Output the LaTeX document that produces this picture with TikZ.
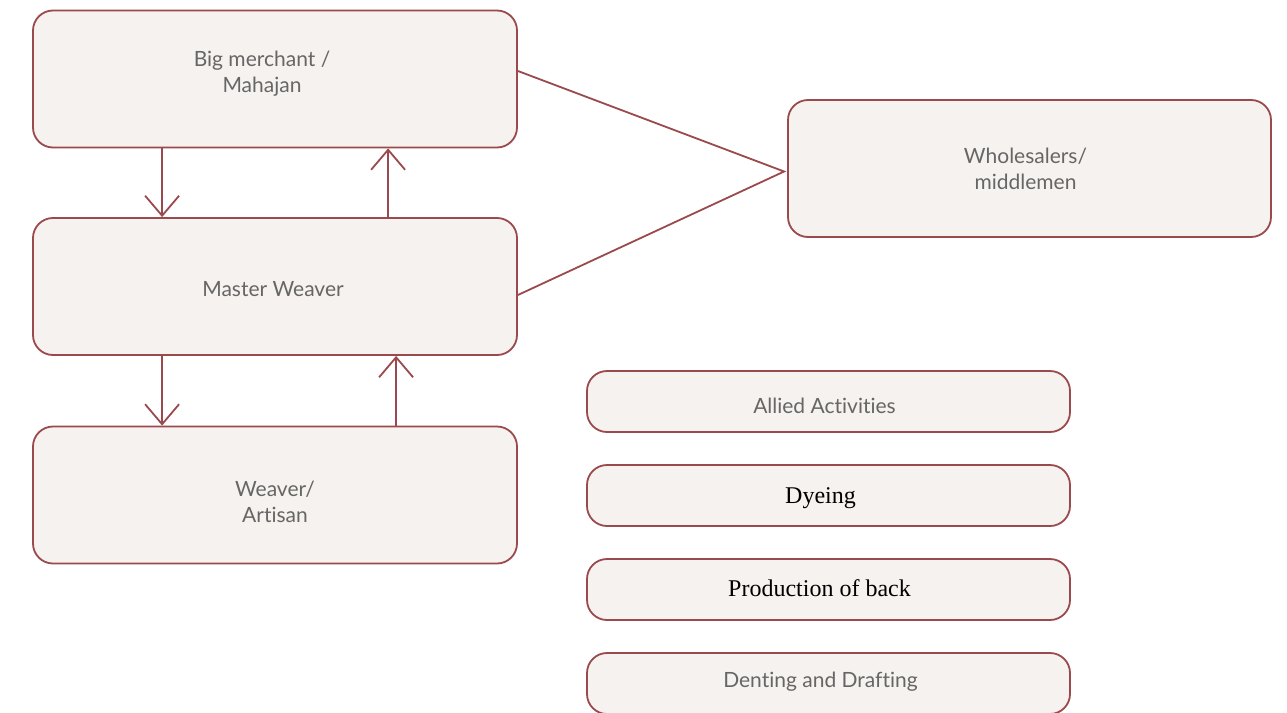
\documentclass[tikz,border=0pt]{standalone}
\usepackage{fontspec}
\setmainfont[Ligatures=NoCommon]{Lato}
\newfontfamily\serifx{Liberation Serif}
\usetikzlibrary{arrows.meta,calc}
\definecolor{edge}{HTML}{9A4A4C}
\definecolor{boxfill}{HTML}{F6F2EF}
\definecolor{txt}{HTML}{666666}
\begin{document}
\begin{tikzpicture}[x=1pt,y=-1pt,
  boxbase/.style={draw=edge,fill=boxfill,line width=1.8pt,rounded corners=20pt,inner sep=0pt},
  bigbox/.style={boxbase,minimum width=484pt,minimum height=137pt},
  smallbox/.style={boxbase,minimum width=483pt,minimum height=61pt},
  sanstext/.style={align=center,text=txt,inner sep=0pt,font=\fontsize{21}{26}\selectfont},
  seriftext/.style={align=center,text=black,inner sep=0pt,font=\serifx\fontsize{24}{28}\selectfont},
  arr/.style={draw=edge,line width=1.8pt,-{Straight Barb[length=20pt,width=34pt]}},
  link/.style={draw=edge,line width=1.8pt}]
\clip (0,0) rectangle (1287,712);
\fill[white] (0,0) rectangle (1287,712);
\node[bigbox,label={[sanstext,shift={(-13,-5)}]center:{Big merchant /\\Mahajan}}] (b1) at (275,79) {};
\node[bigbox,label={[sanstext,shift={(-2,2.5)}]center:{Master Weaver}}] (b2) at (275,286.5) {};
\node[bigbox,label={[sanstext,shift={(0,7)}]center:{Weaver/\\Artisan}}] (b3) at (275,495) {};
\node[bigbox,minimum width=483pt,label={[sanstext,shift={(-4,0)}]center:{Wholesalers/\\middlemen}}] (w) at (1029.5,168.5) {};
\node[smallbox,label={[sanstext,shift={(-4,4.5)}]center:{Allied Activities}}] (a1) at (828.5,401.5) {};
\node[smallbox,label={[seriftext,shift={(-8,2.5)}]center:{Dyeing}}] (a2) at (828.5,495.5) {};
\node[smallbox,label={[seriftext,shift={(-9,-1.5)}]center:{Production of back}}] (a3) at (828.5,589.5) {};
\node[smallbox,label={[sanstext,shift={(-8,-1.5)}]center:{Denting and Drafting}}] (a4) at (828.5,683.5) {};
\draw[arr] ($(b1.south west)+(130,0)$) -- ($(b2.north west)+(130,0)$);
\draw[arr] ($(b2.north west)+(356,0)$) -- ($(b1.south west)+(356,0)$);
\draw[arr] ($(b2.south west)+(130,0)$) -- ($(b3.north west)+(130,0)$);
\draw[arr] ($(b3.north west)+(364,0)$) -- ($(b2.south west)+(364,0)$);
\coordinate (apex) at ($(w.west)+(-3,3)$);
\draw[link] ($(b1.east)+(0,-8)$) -- (apex) -- ($(b2.east)+(0,8.5)$);
\end{tikzpicture}
\end{document}
